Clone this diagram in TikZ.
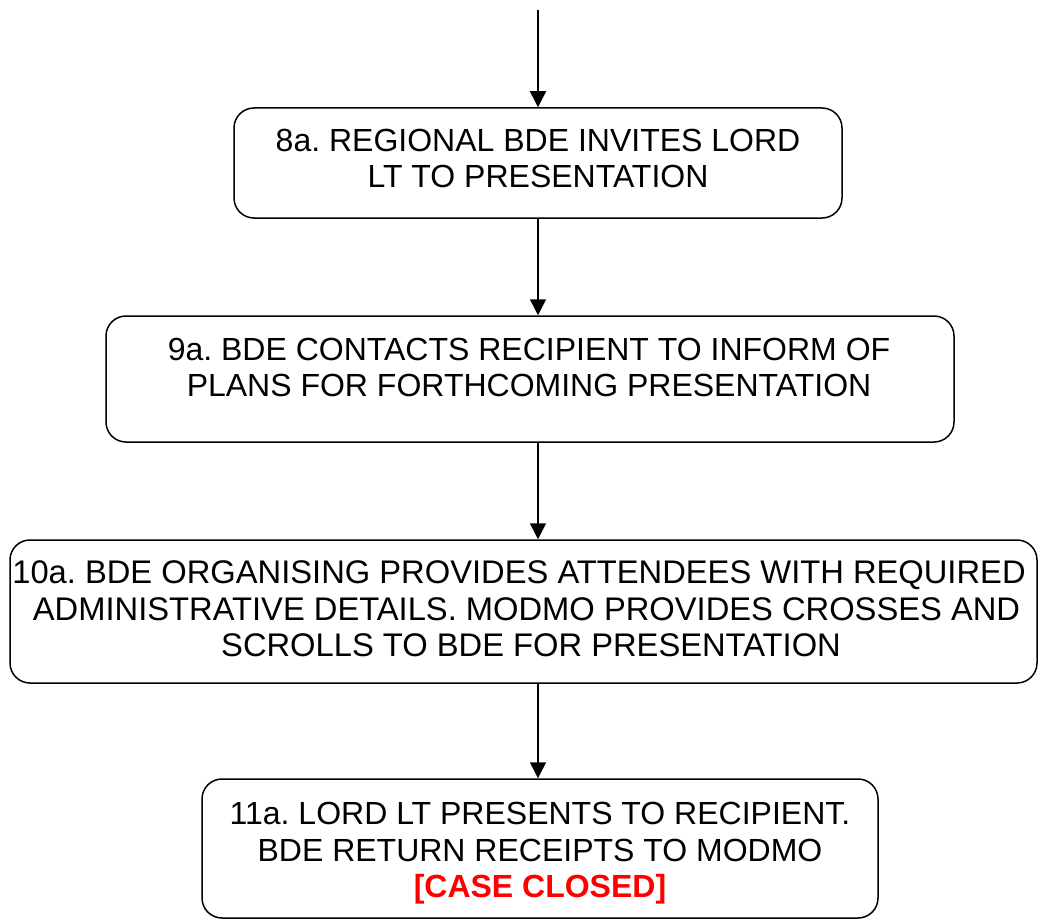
\documentclass[tikz,border=0pt]{standalone}
\usepackage{fontspec}
\setmainfont{Liberation Sans}
\usetikzlibrary{arrows.meta}
\definecolor{casered}{RGB}{255,0,0}
\frenchspacing
\tikzset{
  box/.style={draw, line width=1.5pt, rounded corners=20pt, inner sep=0pt},
  txt/.style={align=center, inner sep=0pt, font=\fontsize{32}{36.5}\selectfont\frenchspacing},
  arr/.style={line width=1.5pt, -{Triangle[length=16pt,width=16pt]}}
}
\begin{document}
\begin{tikzpicture}[x=1pt,y=-1pt]
\useasboundingbox (0,0) rectangle (1040,920);
\node[box, minimum width=608pt, minimum height=110pt] (b8) at (538,163) {};
\node[box, minimum width=848pt, minimum height=126pt] (b9) at (530,379) {};
\node[box, minimum width=1027pt, minimum height=143pt] (b10) at (523.5,611.5) {};
\node[box, minimum width=676pt, minimum height=139pt] (b11) at (540,848.5) {};
\node[txt] (t8) at (538,158.5) {8a. REGIONAL BDE INVITES LORD\\LT TO PRESENTATION};
\node[txt] (t9) at (529,367.5) {9a. BDE CONTACTS RECIPIENT TO INFORM OF\\PLANS FOR FORTHCOMING PRESENTATION};
\node[txt, font=\fontsize{32.7}{36.5}\selectfont\frenchspacing] (t10) at (519,609) {10a. BDE ORGANISING PROVIDES ATTENDEES WITH REQUIRED\\\hspace*{15pt}ADMINISTRATIVE DETAILS. MODMO PROVIDES CROSSES AND\\\hspace*{24pt}SCROLLS TO BDE FOR PRESENTATION};
\node[txt] (t11) at (540,853.5) {11a. LORD LT PRESENTS TO RECIPIENT.\\BDE RETURN RECEIPTS TO MODMO\\{\color{casered}\bfseries [CASE CLOSED]}};
\coordinate (top) at (538,10);
\draw[arr] (top) -- (top |- b8.north);
\draw[arr] (b8.south) -- (b8.south |- b9.north);
\draw[arr] (b8.south |- b9.south) -- (b8.south |- b10.north);
\draw[arr] (b8.south |- b10.south) -- (b8.south |- b11.north);
\end{tikzpicture}
\end{document}
